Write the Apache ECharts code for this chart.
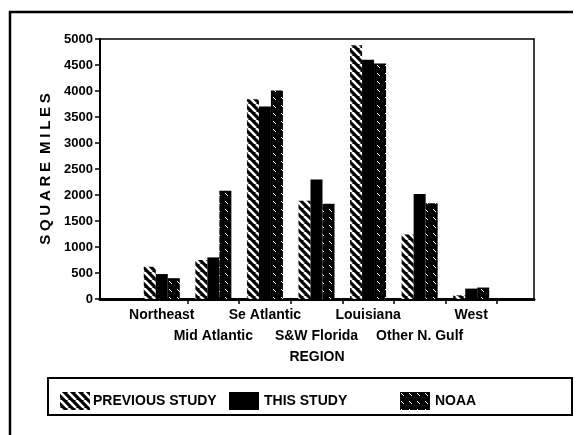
<!DOCTYPE html>
<html>
<head>
<meta charset="utf-8">
<script src="https://cdn.jsdelivr.net/npm/echarts@6/dist/echarts.min.js"></script>
<style>
  html, body { margin: 0; padding: 0; background: #fff; }
  #chart { width: 576px; height: 435px; }
</style>
</head>
<body>
<div id="chart"></div>
<script>
// Regions along the x axis
const regions = ['Northeast', 'Mid Atlantic', 'Se Atlantic', 'S&W Florida', 'Louisiana', 'Other N. Gulf', 'West'];
// Wetland area, square miles
const previousStudy = [620, 750, 3840, 1890, 4880, 1240, 70];
const thisStudy = [480, 800, 3700, 2300, 4600, 2020, 200];
const noaa = [400, 2080, 4010, 1830, 4530, 1840, 220];
// Y axis range
const yMin = 0, yMax = 5000, yStep = 500;

const FONT = "'Liberation Sans', Arial, sans-serif";

// Hatch fills
function hatch(kind) {
  const c = document.createElement('canvas');
  const s = 8;
  c.width = s; c.height = s;
  const g = c.getContext('2d');
  g.fillStyle = '#000';
  g.fillRect(0, 0, s, s);
  g.strokeStyle = '#fff';
  if (kind === 'bold') {
    g.lineWidth = 2.6;
    for (let k = -1; k <= 1; k++) {
      g.beginPath();
      g.moveTo(k * s, 0);
      g.lineTo(k * s + s, s);
      g.stroke();
    }
  } else {
    g.lineWidth = 1;
    g.beginPath();
    g.moveTo(1, 1);
    g.lineTo(4, 4);
    g.stroke();
  }
  return { image: c, repeat: 'repeat' };
}

const chart = echarts.init(document.getElementById('chart'), null, { renderer: 'canvas' });

const commonLabel = { color: '#000', fontFamily: FONT, fontWeight: 'bold' };

const option = {
  backgroundColor: '#fff',
  animation: false,
  grid: [
    { left: 100, right: 42, top: 39, bottom: 136 },
    { left: 136, right: 79, top: 39, bottom: 136 }
  ],
  xAxis: [
    {
      gridIndex: 0, type: 'value', min: 0, max: 1,
      axisLine: { show: true, onZero: false, lineStyle: { color: '#000', width: 3 } },
      axisTick: { show: false }, axisLabel: { show: false }, splitLine: { show: false },
      name: 'REGION', nameLocation: 'middle', nameGap: 51,
      nameTextStyle: { ...commonLabel, fontSize: 14 }
    },
    {
      gridIndex: 0, type: 'value', min: 0, max: 1, position: 'top',
      axisLine: { show: true, onZero: false, lineStyle: { color: '#000', width: 1.5 } },
      axisTick: { show: false }, axisLabel: { show: false }, splitLine: { show: false }
    },
    {
      gridIndex: 1, type: 'category', data: regions,
      axisLine: { show: false, onZero: false },
      axisTick: { show: true, length: 5, lineStyle: { color: '#000', width: 1.5 },
                  interval: (i) => i > 0 },
      axisLabel: {
        ...commonLabel, fontSize: 14, margin: 6, lineHeight: 21, interval: 0,
        formatter: (v, i) => (i % 2 === 1 ? '\n' + v : v)
      }
    }
  ],
  yAxis: [
    {
      gridIndex: 0, type: 'value', min: yMin, max: yMax, interval: yStep,
      axisLine: { show: true, onZero: false, lineStyle: { color: '#000', width: 2 } },
      axisTick: { show: true, length: 5, lineStyle: { color: '#000', width: 1.5 } },
      axisLabel: { ...commonLabel, fontSize: 13, margin: 7, formatter: (v) => String(v) },
      splitLine: { show: false },
      name: 'S\u2005Q\u2005U\u2005A\u2005R\u2005E\u2005 M\u2005I\u2005L\u2005E\u2005S',
      nameLocation: 'middle', nameGap: 46,
      nameTextStyle: { ...commonLabel, fontSize: 15 }
    },
    {
      gridIndex: 0, type: 'value', min: yMin, max: yMax, position: 'right',
      axisLine: { show: true, onZero: false, lineStyle: { color: '#000', width: 1.5 } },
      axisTick: { show: false }, axisLabel: { show: false }, splitLine: { show: false }
    },
    {
      gridIndex: 1, type: 'value', min: yMin, max: yMax,
      axisLine: { show: false, onZero: false }, axisTick: { show: false }, axisLabel: { show: false },
      splitLine: { show: false }
    }
  ],
  legend: [
    { left: 55, top: 387, itemWidth: 30, itemHeight: 18, icon: 'rect',
      textStyle: { ...commonLabel, fontSize: 14, padding: [0, 0, 0, -2] },
      data: ['PREVIOUS STUDY'] },
    { left: 224, top: 387, itemWidth: 30, itemHeight: 18, icon: 'rect',
      textStyle: { ...commonLabel, fontSize: 14 }, data: ['THIS STUDY'] },
    { left: 395, top: 387, itemWidth: 30, itemHeight: 18, icon: 'rect',
      textStyle: { ...commonLabel, fontSize: 14 }, data: ['NOAA'] }
  ],
  graphic: [
    { type: 'rect', shape: { x: 48, y: 378, width: 524, height: 37 },
      style: { fill: 'none', stroke: '#000', lineWidth: 2 }, silent: true },
    { type: 'polyline', shape: { points: [[10, 435], [10, 12], [573, 12]] },
      style: { fill: 'none', stroke: '#000', lineWidth: 2.5 }, silent: true }
  ],
  series: [
    { name: 'PREVIOUS STUDY', type: 'bar', xAxisIndex: 2, yAxisIndex: 2,
      data: previousStudy, barWidth: 12, barGap: '0%',
      itemStyle: { color: hatch('bold') } },
    { name: 'THIS STUDY', type: 'bar', xAxisIndex: 2, yAxisIndex: 2,
      data: thisStudy, barWidth: 12, barGap: '0%',
      itemStyle: { color: '#000' } },
    { name: 'NOAA', type: 'bar', xAxisIndex: 2, yAxisIndex: 2,
      data: noaa, barWidth: 12, barGap: '0%',
      itemStyle: { color: hatch('dash') } }
  ]
};

chart.setOption(option);
</script>
</body>
</html>
